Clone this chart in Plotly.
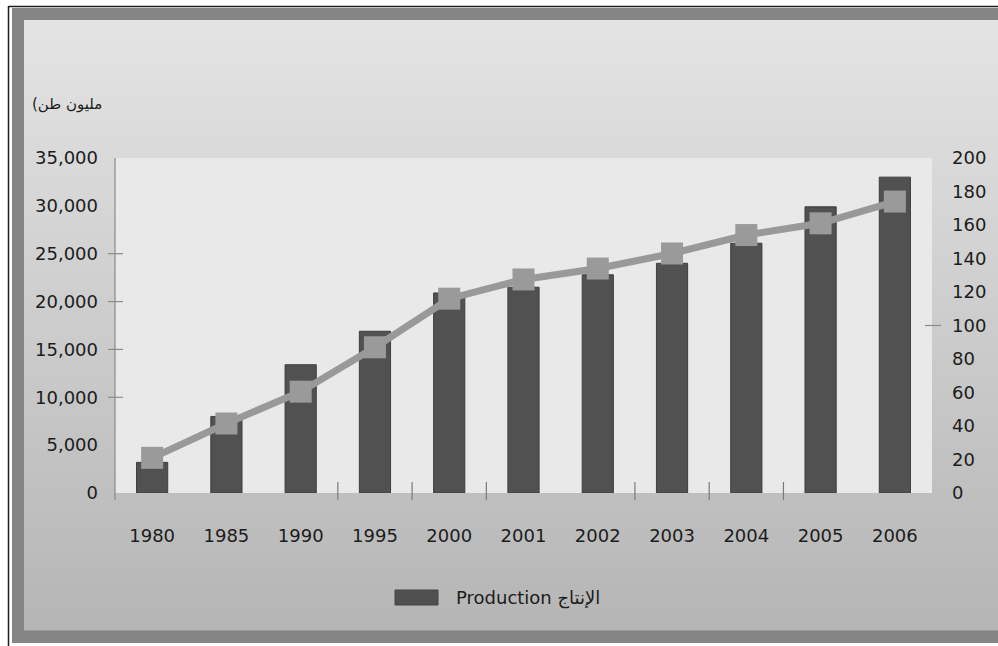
import plotly.graph_objects as go

# ---- data -------------------------------------------------------------
years = ["1980", "1985", "1990", "1995", "2000", "2001", "2002", "2003", "2004", "2005", "2006"]
production = [3200, 8000, 13400, 16900, 20900, 21500, 22800, 24000, 26100, 29900, 33000]
index_line = [21, 41.5, 60.5, 87, 116, 127.5, 134, 143, 154, 161, 174]

left_ticks = [0, 5000, 10000, 15000, 20000, 25000, 30000, 35000]
right_ticks = [0, 20, 40, 60, 80, 100, 120, 140, 160, 180, 200]

unit_label = "(مليون طن"
legend_label = "Production الإنتاج"

# ---- page geometry (pixels) ------------------------------------------
W, H = 998, 646
PL, PR, PT, PB = 115, 932, 158, 493  # plot area box


def px(x):
    return (x - PL) / (PR - PL)


def py(y):
    return (PB - y) / (PB - PT)


FONT = "DejaVu Sans"
FS = 18
shapes = []

# outer frame: thin dark rule, grey border, shaded panel
shapes.append(dict(type="rect", xref="paper", yref="paper", layer="below",
                   x0=px(0), x1=px(W), y0=py(H), y1=py(0),
                   fillcolor="white", line=dict(width=0)))
shapes.append(dict(type="rect", xref="paper", yref="paper", layer="below",
                   x0=px(12), x1=px(W + 5), y0=py(643), y1=py(8),
                   fillcolor="#858585", line=dict(width=0)))
top_c, bot_c = 228, 181
n_strips = 61
y_top, y_bot = 20, 630
step = (y_bot - y_top) / n_strips
for i in range(n_strips):
    c = round(top_c + (bot_c - top_c) * (i + 0.5) / n_strips)
    shapes.append(dict(type="rect", xref="paper", yref="paper", layer="below",
                       x0=px(24), x1=px(W + 5),
                       y0=py(y_top + (i + 1) * step + 0.6), y1=py(y_top + i * step),
                       fillcolor=f"rgb({c},{c},{c})", line=dict(width=0)))
shapes.append(dict(type="line", xref="paper", yref="paper", layer="below",
                   x0=px(8.5), x1=px(8.5), y0=py(H), y1=py(6),
                   line=dict(color="#1e1e1e", width=1.5)))
shapes.append(dict(type="line", xref="paper", yref="paper", layer="below",
                   x0=px(8.5), x1=px(W + 5), y0=py(6.5), y1=py(6.5),
                   line=dict(color="#1e1e1e", width=1.5)))

# plot area background
shapes.append(dict(type="rect", xref="paper", yref="paper", layer="below",
                   x0=0, x1=1, y0=0, y1=1,
                   fillcolor="#e9e9e9", line=dict(width=0)))

# left axis line (runs slightly below the baseline)
shapes.append(dict(type="line", xref="paper", yref="paper",
                   x0=0, x1=0, y0=py(500), y1=1,
                   line=dict(color="#8a8a8a", width=1.2)))

# axis tick marks
for v in [10000, 15000, 20000, 25000]:
    shapes.append(dict(type="line", xref="paper", yref="y",
                       x0=px(108), x1=px(123), y0=v, y1=v,
                       line=dict(color="#8a8a8a", width=1.2)))
for v in [100]:
    shapes.append(dict(type="line", xref="paper", yref="y2",
                       x0=px(925), x1=px(941), y0=v, y1=v,
                       line=dict(color="#8a8a8a", width=1.2)))
for b in [2, 3, 4, 6, 7, 8]:
    shapes.append(dict(type="line", xref="x", yref="paper",
                       x0=b + 0.5, x1=b + 0.5, y0=py(500), y1=py(482),
                       line=dict(color="#7a7a7a", width=1.2)))

# legend swatch
shapes.append(dict(type="rect", xref="paper", yref="paper",
                   x0=px(395), x1=px(438), y0=py(605), y1=py(590),
                   fillcolor="#505050", line=dict(color="#444444", width=1)))

fig = go.Figure()
fig.add_trace(go.Bar(
    x=years, y=production, name=legend_label, yaxis="y",
    width=0.42, marker=dict(color="#515151", line=dict(color="#3e3e3e", width=1)),
    showlegend=False,
))
fig.add_trace(go.Scatter(
    x=years, y=index_line, yaxis="y2", mode="lines+markers",
    line=dict(color="#999999", width=7),
    marker=dict(symbol="square", size=22, color="#9a9a9a"),
    showlegend=False,
))

tick_font = dict(size=FS, family=FONT, color="#1c1c1c")
fig.update_layout(
    width=W, height=H,
    margin=dict(l=PL, r=W - PR, t=PT, b=H - PB),
    paper_bgcolor="white", plot_bgcolor="rgba(0,0,0,0)",
    font=dict(family=FONT, size=FS, color="#1c1c1c"),
    xaxis=dict(type="category", range=[-0.5, len(years) - 0.5], autorange=False,
               showgrid=False, showline=False, ticks="",
               zeroline=False, ticklabelstandoff=30, tickfont=tick_font),
    yaxis=dict(range=[0, 35000], tickvals=left_ticks, tickformat=",",
               showgrid=False, zeroline=False, showline=False, ticks="",
               ticklabelstandoff=16, tickfont=tick_font),
    yaxis2=dict(range=[0, 200], tickvals=right_ticks, overlaying="y", side="right",
                showgrid=False, zeroline=False, showline=False, ticks="",
                ticklabelstandoff=19, tickfont=tick_font),
    shapes=shapes,
    annotations=[
        dict(text=unit_label, xref="paper", yref="paper", x=px(30), y=py(104),
             xanchor="left", yanchor="middle", showarrow=False,
             font=dict(size=15, family=FONT, color="#1c1c1c")),
        dict(text=legend_label, xref="paper", yref="paper", x=px(454), y=py(598),
             xanchor="left", yanchor="middle", showarrow=False,
             font=dict(size=FS, family=FONT, color="#1c1c1c")),
    ],
)

fig.write_html("out.html")
